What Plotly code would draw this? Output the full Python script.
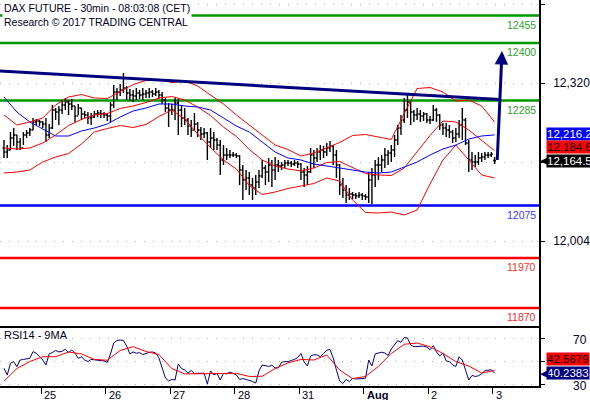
import plotly.graph_objects as go
from plotly.subplots import make_subplots

# 30 min bars, 24 Jul (partial) to 3 Aug 2017, index = bar number
bar_open = [12190, 12182, 12186, 12210, 12216, 12202, 12190, 12216, 12220, 12226,
            12242, 12244, 12242, 12238, 12216, 12230, 12266, 12262, 12266, 12276,
            12282, 12278, 12274, 12254, 12270, 12258, 12256, 12250, 12252, 12258,
            12260, 12258, 12256, 12254, 12276, 12302, 12302, 12306, 12310, 12300,
            12296, 12294, 12300, 12296, 12298, 12300, 12302, 12298, 12302, 12296,
            12286, 12270, 12266, 12266, 12280, 12266, 12250, 12246, 12234, 12226,
            12238, 12226, 12218, 12220, 12202, 12210, 12206, 12196, 12166, 12176,
            12176, 12176, 12176, 12174, 12146, 12126, 12130, 12116, 12110, 12122,
            12134, 12150, 12142, 12156, 12146, 12156, 12154, 12156, 12160, 12160,
            12158, 12160, 12158, 12142, 12136, 12142, 12176, 12170, 12182, 12186,
            12182, 12190, 12194, 12176, 12156, 12116, 12106, 12096, 12098, 12096,
            12094, 12096, 12094, 12092, 12126, 12136, 12156, 12156, 12166, 12176,
            12180, 12186, 12206, 12230, 12246, 12266, 12282, 12262, 12256, 12258,
            12254, 12258, 12246, 12246, 12266, 12256, 12236, 12230, 12226, 12222,
            12210, 12218, 12236, 12246, 12200, 12166, 12162, 12162, 12170, 12172,
            12176, 12176, 12165]
bar_high = [12206, 12196, 12222, 12230, 12216, 12210, 12222, 12226, 12230, 12250,
            12248, 12246, 12244, 12250, 12238, 12276, 12270, 12274, 12286, 12290,
            12286, 12288, 12274, 12278, 12270, 12264, 12262, 12260, 12264, 12266,
            12266, 12262, 12260, 12282, 12316, 12310, 12318, 12340, 12314, 12308,
            12306, 12310, 12306, 12310, 12306, 12310, 12306, 12310, 12306, 12302,
            12290, 12280, 12278, 12290, 12288, 12276, 12270, 12250, 12246, 12260,
            12242, 12232, 12230, 12222, 12230, 12222, 12210, 12206, 12196, 12190,
            12186, 12182, 12180, 12176, 12156, 12146, 12142, 12130, 12136, 12146,
            12166, 12156, 12170, 12166, 12172, 12166, 12162, 12166, 12166, 12164,
            12166, 12164, 12160, 12150, 12154, 12190, 12186, 12190, 12196, 12194,
            12200, 12204, 12196, 12186, 12158, 12130, 12116, 12110, 12102, 12100,
            12102, 12100, 12098, 12142, 12150, 12166, 12172, 12176, 12190, 12186,
            12196, 12216, 12236, 12256, 12290, 12300, 12284, 12266, 12270, 12266,
            12262, 12260, 12254, 12276, 12270, 12258, 12240, 12240, 12236, 12226,
            12230, 12246, 12270, 12250, 12206, 12182, 12176, 12182, 12180, 12182,
            12182, 12182, 12172]
bar_low = [12170, 12170, 12186, 12194, 12186, 12186, 12196, 12210, 12214, 12226,
           12236, 12234, 12230, 12202, 12210, 12228, 12246, 12236, 12258, 12266,
           12256, 12266, 12242, 12256, 12246, 12250, 12238, 12236, 12250, 12252,
           12250, 12250, 12244, 12242, 12270, 12286, 12294, 12300, 12286, 12284,
           12282, 12286, 12288, 12286, 12290, 12290, 12292, 12294, 12288, 12278,
           12262, 12232, 12256, 12246, 12216, 12232, 12236, 12216, 12212, 12226,
           12212, 12206, 12210, 12166, 12190, 12186, 12186, 12136, 12156, 12166,
           12170, 12172, 12170, 12116, 12086, 12106, 12096, 12086, 12096, 12110,
           12130, 12116, 12122, 12112, 12126, 12142, 12146, 12150, 12154, 12152,
           12154, 12150, 12126, 12112, 12116, 12140, 12150, 12162, 12166, 12170,
           12174, 12182, 12156, 12130, 12096, 12090, 12080, 12086, 12088, 12088,
           12090, 12086, 12086, 12080, 12078, 12112, 12126, 12142, 12150, 12156,
           12162, 12172, 12196, 12216, 12240, 12250, 12236, 12242, 12246, 12242,
           12244, 12240, 12238, 12244, 12242, 12226, 12216, 12212, 12210, 12200,
           12202, 12210, 12206, 12196, 12142, 12146, 12152, 12156, 12162, 12166,
           12170, 12172, 12158]
bar_close = [12182, 12186, 12210, 12216, 12202, 12190, 12216, 12220, 12226, 12242,
             12244, 12242, 12238, 12216, 12230, 12266, 12262, 12266, 12276, 12282,
             12278, 12274, 12254, 12270, 12258, 12256, 12250, 12252, 12258, 12260,
             12258, 12256, 12254, 12276, 12302, 12302, 12306, 12310, 12300, 12296,
             12294, 12300, 12296, 12298, 12300, 12302, 12298, 12302, 12296, 12286,
             12270, 12266, 12266, 12280, 12266, 12250, 12246, 12234, 12226, 12238,
             12226, 12218, 12220, 12202, 12210, 12206, 12196, 12166, 12176, 12176,
             12176, 12176, 12174, 12146, 12126, 12130, 12116, 12110, 12122, 12134,
             12150, 12142, 12156, 12146, 12156, 12154, 12156, 12160, 12160, 12158,
             12160, 12158, 12142, 12136, 12142, 12176, 12170, 12182, 12186, 12182,
             12190, 12194, 12176, 12156, 12116, 12106, 12096, 12098, 12096, 12094,
             12096, 12094, 12092, 12126, 12136, 12156, 12156, 12166, 12176, 12180,
             12186, 12206, 12230, 12246, 12266, 12282, 12262, 12256, 12258, 12254,
             12258, 12246, 12246, 12266, 12256, 12236, 12230, 12226, 12222, 12210,
             12218, 12236, 12246, 12200, 12166, 12162, 12162, 12170, 12172, 12176,
             12176, 12178, 12164.5]
bars = list(range(len(bar_close)))

# indicator lines, read every 4th bar
band_idx = [0, 4, 8, 12, 16, 20, 24, 28, 32, 36, 40, 44, 48, 52, 56, 60, 64, 68, 72, 76,
            80, 84, 88, 92, 96, 100, 104, 108, 112, 116, 120, 124, 128, 132, 136, 140, 144, 148, 152]
ma50 = [12292, 12262, 12242, 12228, 12214, 12214, 12224, 12230, 12238, 12252,
        12264, 12270, 12278, 12278, 12274, 12272, 12266, 12250, 12234, 12222,
        12202, 12182, 12170, 12166, 12158, 12154, 12150, 12146, 12142, 12140,
        12142, 12152, 12162, 12176, 12188, 12196, 12208, 12214, 12216.2]
bb_mid = [12190, 12188, 12190, 12200, 12216, 12235, 12247, 12256, 12259, 12269,
          12274, 12281, 12290, 12293, 12286, 12272, 12255, 12232, 12213, 12187,
          12166, 12154, 12148, 12144, 12150, 12161, 12163, 12151, 12139, 12136,
          12135, 12150, 12183, 12215, 12244, 12242, 12226, 12206, 12184.6]
bb_up = [12256, 12236, 12242, 12250, 12276, 12292, 12297, 12290, 12289, 12303,
         12317, 12325, 12327, 12321, 12324, 12314, 12296, 12278, 12256, 12236,
         12216, 12196, 12187, 12174, 12180, 12191, 12201, 12215, 12217, 12212,
         12207, 12259, 12309, 12311, 12302, 12284, 12286, 12274, 12242]
bb_low = [12140, 12142, 12146, 12162, 12172, 12179, 12198, 12222, 12229, 12235,
          12231, 12237, 12253, 12266, 12248, 12218, 12191, 12166, 12148, 12115,
          12097, 12102, 12109, 12114, 12119, 12130, 12124, 12086, 12061, 12060,
          12062, 12056, 12066, 12118, 12166, 12196, 12166, 12136, 12130]

rsi14 = [44.5, 38.7, 48.9, 50.3, 45.9, 51.7, 52.2, 52.6, 53.2, 59.0,
         57.6, 54.8, 51.7, 47.4, 57.0, 58.3, 60.0, 58.7, 59.4, 61.0,
         58.3, 60.4, 57.6, 53.2, 54.5, 51.7, 50.4, 52.2, 51.9, 51.7,
         51.5, 50.9, 49.6, 57.0, 66.5, 68.7, 69.1, 68.7, 63.9, 57.0,
         58.7, 57.6, 58.1, 56.5, 57.3, 58.4, 58.7, 57.8, 53.5, 44.8,
         36.1, 33.5, 34.8, 34.3, 48.3, 44.3, 43.0, 40.4, 42.6, 40.0,
         39.8, 40.2, 40.2, 30.9, 42.2, 38.9, 40.0, 34.3, 40.2, 39.6,
         41.3, 40.3, 38.7, 34.8, 35.6, 34.8, 34.2, 33.0, 31.7, 42.2,
         47.4, 47.0, 46.1, 47.2, 44.8, 44.8, 49.8, 50.3, 50.3, 51.3,
         52.2, 53.9, 57.4, 50.0, 46.5, 55.2, 56.3, 56.1, 54.6, 57.4,
         60.2, 60.9, 53.5, 43.0, 33.5, 31.3, 34.8, 33.0, 35.7, 35.2,
         35.2, 35.8, 35.8, 51.7, 46.5, 57.0, 57.6, 58.5, 57.8, 55.7,
         61.3, 65.2, 68.6, 67.1, 71.3, 70.9, 64.8, 63.3, 63.3, 63.7,
         63.8, 63.0, 60.7, 64.3, 58.7, 55.2, 57.8, 50.9, 50.3, 47.4,
         46.1, 54.5, 51.7, 43.0, 34.3, 38.3, 37.4, 38.0, 39.6, 42.6,
         43.0, 43.2, 40.2383]
rsi_ma9 = [33.3, 44.3, 50.4, 54.6, 54.6, 58.7, 57.0, 52.2, 51.5, 60.0,
           63.3, 59.1, 56.5, 44.3, 39.6, 39.9, 39.6, 40.0, 40.1, 37.4,
           37.6, 44.3, 49.2, 52.2, 51.7, 56.1, 43.0, 35.5, 37.4, 46.1,
           57.4, 65.4, 66.5, 63.2, 57.4, 50.3, 46.5, 40.4, 42.5679]

# support / resistance levels and trend line
levels = [12455, 12400, 12285, 12075, 11970, 11870]
level_colors = ["#009900", "#009900", "#009900", "#0000ff", "#ff0000", "#ff0000"]
label_colors = ["#2f9f2f", "#2f9f2f", "#2f9f2f", "#3a3aff", "#ff2a2a", "#ff2a2a"]
trend_x = [-1.3, 153.8]
trend_y = [12344, 12287]
arrow_from = (152.8, 12163)
arrow_to = (154.3, 12384)

day_start = [11.5, 31.5, 51.5, 71.5, 91.5, 111.5, 131.5, 151.5]
day_text = ["25", "26", "27", "28", "31", "<b>Aug</b>", "2", "3"]

price_ticks = [12478, 12320, 12162, 12004]
price_ticktext = ["12,478", "12,320", "", "12,004"]
rsi_ticks = [70, 50, 30]
rsi_labels = [70, 30]

FONT = "Liberation Sans, Arial, sans-serif"

fig = make_subplots(rows=2, cols=1, shared_xaxes=True, vertical_spacing=0,
                    row_heights=[326 / 386, 60 / 386])

fig.add_trace(go.Ohlc(x=bars, open=bar_open, high=bar_high, low=bar_low, close=bar_close,
                      increasing_line_color="black", decreasing_line_color="black",
                      line_width=1.4, tickwidth=0.45, hoverinfo="skip"), row=1, col=1)
for band in (bb_up, bb_mid, bb_low):
    fig.add_trace(go.Scatter(x=band_idx, y=band, mode="lines", line=dict(color="#ff0000", width=1)),
                  row=1, col=1)
fig.add_trace(go.Scatter(x=band_idx, y=ma50, mode="lines", line=dict(color="#0000ff", width=1)), row=1, col=1)
fig.add_trace(go.Scatter(x=trend_x, y=trend_y, mode="lines", line=dict(color="#000080", width=3)), row=1, col=1)

fig.add_trace(go.Scatter(x=bars, y=rsi14, mode="lines", line=dict(color="#000080", width=1)), row=2, col=1)
fig.add_trace(go.Scatter(x=band_idx, y=rsi_ma9, mode="lines", line=dict(color="#ff0000", width=1)), row=2, col=1)

for lvl, lc, tc in zip(levels, level_colors, label_colors):
    fig.add_shape(type="line", xref="x domain", yref="y", x0=0, x1=1, y0=lvl, y1=lvl,
                  line=dict(color=lc, width=2.5), layer="below")
    fig.add_annotation(xref="x domain", yref="y", x=1, y=lvl, text=str(lvl), showarrow=False,
                       xanchor="right", yanchor="top", xshift=-1, yshift=-1,
                       font=dict(family=FONT, size=10.5, color=tc))

fig.add_annotation(x=arrow_to[0], y=arrow_to[1], ax=arrow_from[0], ay=arrow_from[1],
                   xref="x", yref="y", axref="x", ayref="y", showarrow=True,
                   arrowhead=2, arrowsize=0.9, arrowwidth=3, arrowcolor="#000080", text="")

# title block
fig.add_annotation(xref="paper", yref="paper", x=0, y=1, xanchor="left", yanchor="top",
                   text="DAX FUTURE - 30min - 08:03:08 (CET)<br>Research © 2017 TRADING CENTRAL",
                   align="left", showarrow=False, bgcolor="white", xshift=2,
                   font=dict(family=FONT, size=10.5, color="#000022"))
fig.add_annotation(xref="paper", yref="y2 domain", x=0, y=1, xanchor="left", yanchor="top",
                   text="RSI14 - 9MA", showarrow=False, xshift=2, yshift=-1,
                   font=dict(family=FONT, size=11, color="#000022"))

# day labels to the right of the day ticks
for d, t in zip(day_start, day_text):
    fig.add_annotation(xref="x2", yref="paper", x=d, y=0, text=t, showarrow=False,
                       xanchor="left", yanchor="top", xshift=1, yshift=-1,
                       font=dict(family=FONT, size=11, color="#000022"))

# RSI scale labels, right aligned at the window edge
for r in rsi_labels:
    fig.add_annotation(xref="paper", yref="y2", x=1, y=r, text=str(r), showarrow=False,
                       xanchor="right", yanchor="middle", xshift=50, yshift=-1,
                       font=dict(family=FONT, size=12, color="#000022"))

# last value tags on the right axis (stacked above the close tag)
tags = [
    ("y", bar_close[-1], 27, "12,216.2", "#0000ff", "white"),
    ("y", bar_close[-1], 13.5, "12,184.6", "#ff0000", "black"),
    ("y", bar_close[-1], 0, "12,164.5", "#000000", "white"),
    ("y2", rsi14[-1], 14.5, "42.5679", "#ff0000", "black"),
    ("y2", rsi14[-1], 0, "40.2383", "#000080", "white"),
]
for yref, val, shift, txt, bg, fc in tags:
    fig.add_annotation(xref="paper", yref=yref, x=1.0135, y=val, yshift=shift, text=txt,
                       showarrow=False, xanchor="left", yanchor="middle",
                       bgcolor=bg, borderpad=0, font=dict(family=FONT, size=11.5, color=fc))
for yref, val, bg in [("y", bar_close[-1], "#000000"), ("y2", rsi14[-1], "#000080")]:
    fig.add_annotation(xref="paper", yref=yref, x=1.0, y=val, text="◀", showarrow=False,
                       xanchor="left", yanchor="middle", xshift=-1,
                       font=dict(family="DejaVu Sans", size=11, color=bg))

fig.update_layout(
    width=590, height=400, margin=dict(l=0, r=51, t=0, b=14),
    paper_bgcolor="white", plot_bgcolor="white", showlegend=False,
    font=dict(family=FONT, size=12, color="#000022"),
)
fig.update_xaxes(range=[-1.24, 165.76], showgrid=False, zeroline=False,
                 rangeslider_visible=False, showline=True, linecolor="black", linewidth=1.5)
fig.update_xaxes(showticklabels=False, ticks="", row=1, col=1)
fig.update_xaxes(tickvals=day_start, ticktext=[""] * len(day_start), ticks="outside",
                 ticklen=6, tickcolor="black", row=2, col=1)
fig.update_yaxes(side="right", range=[11834, 12486], tickvals=price_ticks, ticktext=price_ticktext,
                 ticks="outside", ticklen=4, tickcolor="black", showline=True, linecolor="black",
                 linewidth=1.5, showgrid=True, gridcolor="#b0b0b0", griddash="1px,8px",
                 zeroline=False, ticklabelstandoff=6, tickfont=dict(size=12), row=1, col=1)
fig.update_yaxes(side="right", range=[29.1, 81.3], tickvals=rsi_ticks, showticklabels=False,
                 ticks="outside", ticklen=4, tickcolor="black", showline=True, linecolor="black",
                 linewidth=1.5, showgrid=True, gridcolor="#b0b0b0", griddash="1px,8px",
                 zeroline=False, row=2, col=1)

fig.write_html("out.html", config={"displayModeBar": False},
               post_script="document.body.style.margin='0px';")
